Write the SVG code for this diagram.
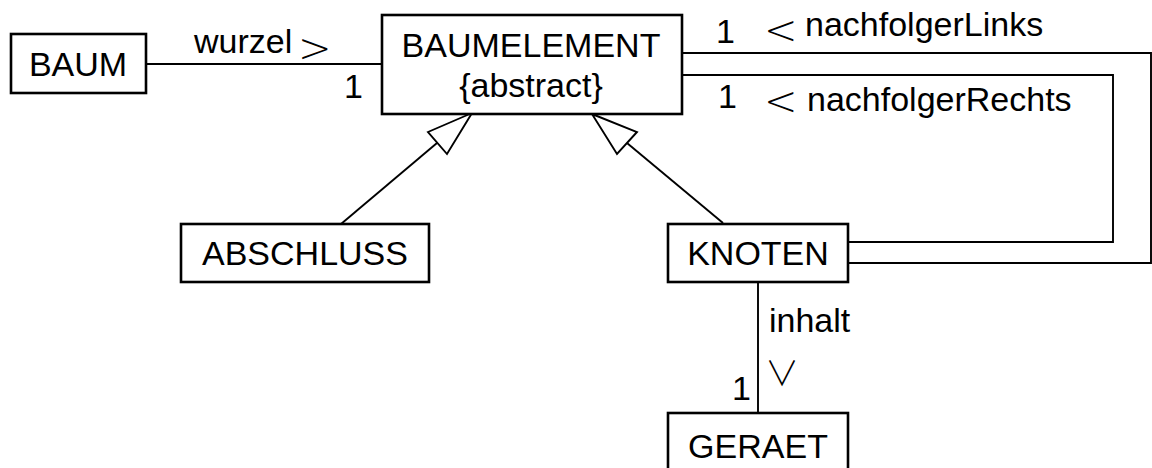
<svg xmlns="http://www.w3.org/2000/svg" width="1152" height="468" viewBox="0 0 1152 468">
<style>
.box{fill:#fff;stroke:#000;stroke-width:2.6}
.ln{fill:none;stroke:#000;stroke-width:1.9}
.tri{fill:#fff;stroke:#000;stroke-width:1.9;stroke-linejoin:miter}
text{font-family:"Liberation Sans",Arial,sans-serif;font-size:34px;fill:#000}
.c{text-anchor:middle}
.m{font-family:"DejaVu Sans","Liberation Sans",sans-serif;font-size:40px;font-weight:200}
.v{font-family:"Noto Sans CJK JP","DejaVu Sans",sans-serif;font-size:34px;font-weight:300}
</style>
<rect width="1152" height="468" fill="#fff"/>
<g id="connectors">
<line class="ln" x1="146" y1="64" x2="382" y2="64"/>
<polyline class="ln" points="682,53 1151,53 1151,263 848,263"/>
<polyline class="ln" points="682,75 1113,75 1113,242 848,242"/>
<line class="ln" x1="758" y1="282" x2="758" y2="413"/>
<line class="ln" x1="341" y1="224" x2="437" y2="143"/>
<polygon class="tri" points="472,113 428,132 447,154"/>
<line class="ln" x1="723" y1="223" x2="627" y2="143"/>
<polygon class="tri" points="592,114 637,132 617,154"/>
<text x="194" y="53">wurzel</text>
<text class="m" x="298" y="62">&gt;</text>
<text x="344" y="98">1</text>
<text x="716" y="43">1</text>
<text class="m" x="764" y="44">&lt;</text>
<text x="805" y="36">nachfolgerLinks</text>
<text x="718" y="108">1</text>
<text class="m" x="764" y="115">&lt;</text>
<text x="807" y="111">nachfolgerRechts</text>
<text x="769" y="332">inhalt</text>
<text class="v" x="765" y="386">∨</text>
<text x="732" y="400">1</text>
</g>
<g id="BAUM">
<rect class="box" x="11" y="34" width="135" height="59"/>
<text class="c" x="78" y="76">BAUM</text>
</g>
<g id="BAUMELEMENT">
<rect class="box" x="382" y="15" width="300" height="99"/>
<text class="c" x="531" y="57">BAUMELEMENT</text>
<text class="c" x="531" y="97">{abstract}</text>
</g>
<g id="ABSCHLUSS">
<rect class="box" x="181" y="224" width="248" height="58"/>
<text class="c" x="305" y="265">ABSCHLUSS</text>
</g>
<g id="KNOTEN">
<rect class="box" x="668" y="224" width="180" height="58"/>
<text class="c" x="758" y="265">KNOTEN</text>
</g>
<g id="GERAET">
<rect class="box" x="668" y="413" width="180" height="60"/>
<text class="c" x="758" y="458">GERAET</text>
</g>
</svg>
